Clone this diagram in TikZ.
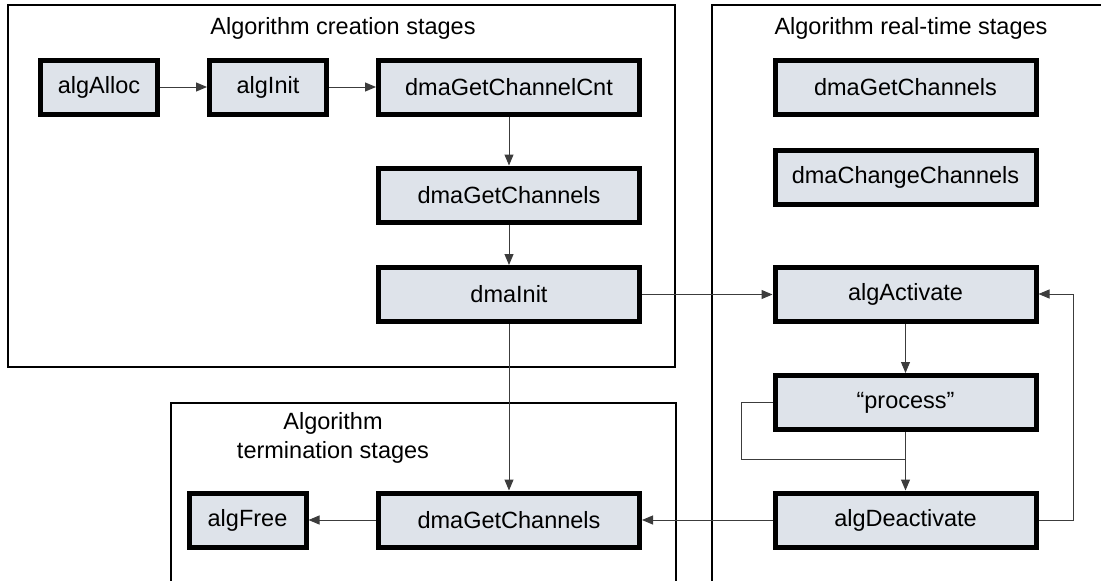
\documentclass[tikz,border=0pt]{standalone}
\usepackage{fontspec}
\setmainfont{Liberation Sans}
\usetikzlibrary{positioning, arrows.meta, calc}

\definecolor{boxfill}{RGB}{222,227,234}
\definecolor{linkgray}{RGB}{60,60,60}

\begin{document}
\begin{tikzpicture}[x=1pt, y=-1pt,
	stage/.style={draw=black, line width=5pt, fill=boxfill, inner sep=0pt,
		minimum width=261pt, minimum height=54pt, font=\fontsize{23.5}{28}\selectfont},
	smallstage/.style={stage, minimum width=117pt},
	group/.style={draw=black, line width=2pt},
	grouptitle/.style={font=\fontsize{23.5}{29}\selectfont, align=center, inner sep=0pt},
	link/.style={draw=linkgray, line width=1pt, -{Triangle[length=11pt,width=9pt]}},
	plainlink/.style={draw=linkgray, line width=1pt}]

	% Fix the size of the picture
	\useasboundingbox (0,0) rectangle (1101,581);

	% Draw the three stage groups
	\draw[group] (8,5) rectangle (675,367); % creation
	\draw[group] (712,600) -- (712,5) -- (1120,5); % real-time
	\draw[group] (171,600) -- (171,403) -- (676,403) -- (676,600); % termination

	% Group titles
	\node[grouptitle] (creationtitle) at (343,28) {Algorithm creation stages};
	\node[grouptitle] (realtimetitle) at (911,28) {Algorithm real-time stages};
	\node[grouptitle] (terminationtitle) at (333,438) {Algorithm\\termination stages};

	% Creation stages
	\node[smallstage] (algAlloc) at (99,87) {algAlloc};
	\node[smallstage] (algInit) at (268,87) {algInit};
	\node[stage] (dmaGetChannelCnt) at (509,87) {dmaGetChannelCnt};
	\node[stage] (dmaGetChannels) at (509,195) {dmaGetChannels};
	\node[stage] (dmaInit) at (509,294.5) {dmaInit};

	% Real-time stages
	\node[stage] (rtGetChannels) at (905.5,87) {dmaGetChannels};
	\node[stage] (rtChangeChannels) at (905.5,177.5) {dmaChangeChannels};
	\node[stage] (algActivate) at (905.5,294) {algActivate};
	\node[stage] (process) at (905.5,402.5) {``process''};
	\node[stage] (algDeactivate) at (905.5,520) {algDeactivate};

	% Termination stages
	\node[stage] (termGetChannels) at (509,520) {dmaGetChannels};
	\node[smallstage] (algFree) at (247.5,520) {algFree};

	% Connectors
	\draw[link] (algAlloc) -- (algInit);
	\draw[link] (algInit) -- (dmaGetChannelCnt);
	\draw[link] (dmaGetChannelCnt) -- (dmaGetChannels);
	\draw[link] (dmaGetChannels) -- (dmaInit);
	\draw[link] (dmaInit.east) -- (algActivate.west |- dmaInit.east);
	\draw[link] (dmaInit) -- (termGetChannels);
	\draw[link] (algActivate) -- (process);
	\draw[link] (process) -- (algDeactivate);
	\coordinate (loopjoin) at (905.5,459);
	\draw[plainlink] (process.west) -- ++(-31,0) |- (loopjoin);
	\draw[link] (algDeactivate.east) -- ++(35,0) |- (algActivate.east);
	\draw[link] (algDeactivate) -- (termGetChannels);
	\draw[link] (termGetChannels) -- (algFree);

\end{tikzpicture}
\end{document}
